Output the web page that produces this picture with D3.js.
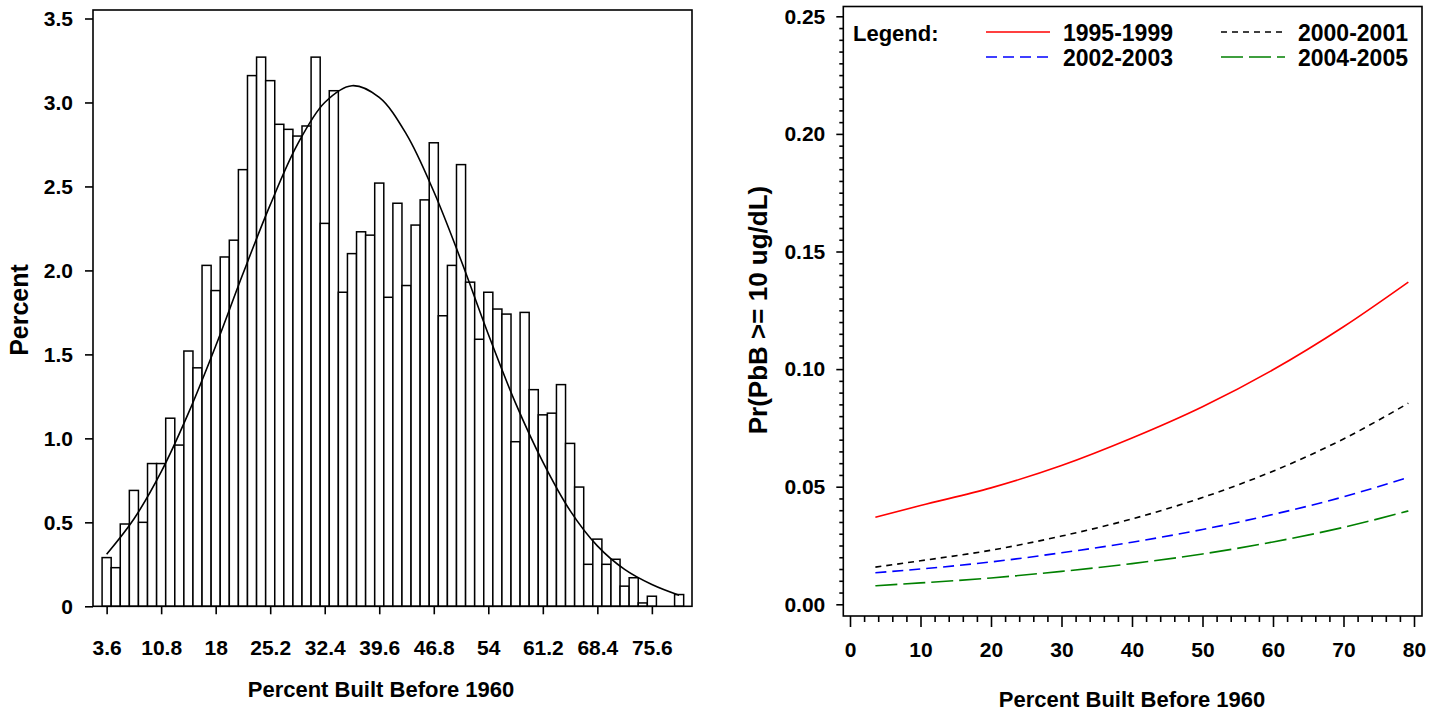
<!DOCTYPE html>
<html>
<head>
<meta charset="utf-8">
<script src="https://cdn.jsdelivr.net/npm/d3@7"></script>
<style>
  body { margin: 0; background: #fff; }
  svg { display: block; }
  text { font-family: "Liberation Sans", Arial, Helvetica, sans-serif; font-weight: bold; fill: #000; }
</style>
</head>
<body>
<svg id="chart" width="1439" height="712"></svg>
<script>
// ---- Histogram: percent of tracts by share of housing built before 1960 ----
const binStart = 3.6;      // midpoint of the first bin
const binWidth = 1.2;
const binPercents = [
  0.29, 0.23, 0.49, 0.69, 0.50, 0.85, 0.85, 1.12, 0.96, 1.52, 1.42, 2.03, 1.88, 2.08, 2.18, 2.60,
  3.16, 3.27, 3.13, 2.87, 2.84, 2.80, 2.86, 3.27, 2.28, 3.07, 1.87, 2.10, 2.23, 2.21, 2.52, 1.84,
  2.40, 1.91, 2.27, 2.42, 2.76, 1.73, 2.03, 2.63, 1.93, 1.59, 1.87, 1.77, 1.74, 0.98, 1.75, 1.29,
  1.14, 1.15, 1.32, 0.97, 0.71, 0.25, 0.40, 0.25, 0.28, 0.12, 0.17, 0.02, 0.06, 0.00, 0.00, 0.07
];
// fitted normal density, in percent per bin
const fitX = [3.6, 7.2, 10.8, 14.4, 18, 21.6, 25.2, 28.8, 32.4, 36, 39.6,
              43.2, 46.8, 50.4, 54, 57.6, 61.2, 64.8, 68.4, 72, 75.6, 79.2];
const fitPercent = [0.31, 0.52, 0.80, 1.15, 1.55, 1.98, 2.39, 2.75, 3.00, 3.10, 3.03,
                    2.81, 2.47, 2.06, 1.62, 1.21, 0.86, 0.57, 0.36, 0.22, 0.13, 0.066];
const histXTicks = [3.6, 10.8, 18, 25.2, 32.4, 39.6, 46.8, 54, 61.2, 68.4, 75.6];
const histXTickLabels = ["3.6", "10.8", "18", "25.2", "32.4", "39.6", "46.8", "54", "61.2", "68.4", "75.6"];
const histYTicks = [0, 0.5, 1.0, 1.5, 2.0, 2.5, 3.0, 3.5];
const histYTickLabels = ["0", "0.5", "1.0", "1.5", "2.0", "2.5", "3.0", "3.5"];

// ---- Predicted probability of blood lead >= 10 ug/dL by period ----
const predX = [3.6, 10, 20, 30, 40, 50, 60, 70, 79.2];
const p1995_1999 = [0.0370, 0.0420, 0.0495, 0.0590, 0.0707, 0.0840, 0.0997, 0.1180, 0.1370];
const p2000_2001 = [0.0158, 0.0185, 0.0230, 0.0290, 0.0363, 0.0454, 0.0566, 0.0703, 0.0855];
const p2002_2003 = [0.0134, 0.0150, 0.0180, 0.0219, 0.0264, 0.0318, 0.0382, 0.0457, 0.0540];
const p2004_2005 = [0.0079, 0.0091, 0.0112, 0.0140, 0.0173, 0.0214, 0.0265, 0.0327, 0.0397];
const periodNames = ["1995-1999", "2000-2001", "2002-2003", "2004-2005"];
const predXTicks = [0, 10, 20, 30, 40, 50, 60, 70, 80];
const predYTicks = [0, 0.05, 0.10, 0.15, 0.20, 0.25];

const svg = d3.select("#chart");

// ================= left panel: histogram =================
const L = { left: 93, right: 692, top: 10, bottom: 606.3 };
const hx = d3.scaleLinear().domain([1.8, 80.9]).range([L.left, L.right]);
const hy = d3.scaleLinear().domain([0, 3.5]).range([L.bottom, 18.5]);

const left = svg.append("g");

left.append("g")
  .selectAll("rect")
  .data(binPercents.map((p, i) => ({ mid: binStart + i * binWidth, p })).filter(d => d.p > 0))
  .join("rect")
  .attr("x", d => hx(d.mid - binWidth / 2))
  .attr("width", d => hx(d.mid + binWidth / 2) - hx(d.mid - binWidth / 2))
  .attr("y", d => hy(d.p))
  .attr("height", d => hy(0) - hy(d.p))
  .attr("fill", "#fff")
  .attr("stroke", "#000")
  .attr("stroke-width", 1.5);

left.append("path")
  .datum(fitX.map((x, i) => [x, fitPercent[i]]))
  .attr("fill", "none")
  .attr("stroke", "#000")
  .attr("stroke-width", 1.6)
  .attr("d", d3.line().x(d => hx(d[0])).y(d => hy(d[1])).curve(d3.curveCatmullRom));

left.append("rect")
  .attr("x", L.left).attr("y", L.top)
  .attr("width", L.right - L.left).attr("height", L.bottom - L.top)
  .attr("fill", "none").attr("stroke", "#000").attr("stroke-width", 1.6);

const hxAxis = left.append("g")
  .attr("transform", `translate(0,${L.bottom})`)
  .call(d3.axisBottom(hx).tickValues(histXTicks)
    .tickFormat((d, i) => histXTickLabels[i]).tickSize(8).tickPadding(26));
hxAxis.select(".domain").remove();

const hyAxis = left.append("g")
  .attr("transform", `translate(${L.left},0)`)
  .call(d3.axisLeft(hy).tickValues(histYTicks)
    .tickFormat((d, i) => histYTickLabels[i]).tickSize(8).tickPadding(12));
hyAxis.select(".domain").remove();

[hxAxis, hyAxis].forEach(a => {
  a.selectAll("line").attr("stroke", "#000").attr("stroke-width", 1.6);
  a.selectAll("text").style("font-size", "21px").attr("fill", "#000");
});

left.append("text")
  .attr("x", 381).attr("y", 697)
  .attr("text-anchor", "middle")
  .style("font-size", "22px")
  .text("Percent Built Before 1960");

left.append("text")
  .attr("transform", "translate(28,310) rotate(-90)")
  .attr("text-anchor", "middle")
  .style("font-size", "25px")
  .text("Percent");

// ================= right panel: predicted probabilities =================
const R = { left: 843.3, right: 1422, top: 6.5, bottom: 616 };
const px = d3.scaleLinear().domain([0, 80]).range([850, 1414]);
const py = d3.scaleLinear().domain([0, 0.25]).range([604.3, 16.3]);

const right = svg.append("g");

right.append("rect")
  .attr("x", R.left).attr("y", R.top)
  .attr("width", R.right - R.left).attr("height", R.bottom - R.top)
  .attr("fill", "none").attr("stroke", "#000").attr("stroke-width", 1.6);

// minor ticks
const pxMinor = right.append("g")
  .attr("transform", `translate(0,${R.bottom})`)
  .call(d3.axisBottom(px).tickValues(d3.range(0, 81, 2).filter(v => v % 10 !== 0))
    .tickFormat("").tickSize(6));
const pyMinor = right.append("g")
  .attr("transform", `translate(${R.left},0)`)
  .call(d3.axisLeft(py).tickValues(d3.range(0, 0.2501, 0.005).filter((v, i) => i % 10 !== 0))
    .tickFormat("").tickSize(4));

// major ticks and labels
const pxAxis = right.append("g")
  .attr("transform", `translate(0,${R.bottom})`)
  .call(d3.axisBottom(px).tickValues(predXTicks).tickFormat(d3.format("d"))
    .tickSize(11).tickPadding(15));
const pyAxis = right.append("g")
  .attr("transform", `translate(${R.left},0)`)
  .call(d3.axisLeft(py).tickValues(predYTicks).tickFormat(d3.format(".2f"))
    .tickSize(7).tickPadding(11));

[pxMinor, pyMinor, pxAxis, pyAxis].forEach(a => {
  a.select(".domain").remove();
  a.selectAll("line").attr("stroke", "#000").attr("stroke-width", 1.6);
  a.selectAll("text").style("font-size", "21px").attr("fill", "#000");
});

const series = [
  { name: periodNames[0], values: p1995_1999, color: "#ff0000", dash: null },
  { name: periodNames[1], values: p2000_2001, color: "#000000", dash: "6,5" },
  { name: periodNames[2], values: p2002_2003, color: "#0000ff", dash: "11,6" },
  { name: periodNames[3], values: p2004_2005, color: "#008000", dash: "22,6" }
];

const predLine = d3.line()
  .x(d => px(d[0])).y(d => py(d[1]))
  .curve(d3.curveMonotoneX);

right.append("g")
  .selectAll("path")
  .data(series)
  .join("path")
  .attr("fill", "none")
  .attr("stroke", d => d.color)
  .attr("stroke-width", 1.6)
  .attr("stroke-dasharray", d => d.dash)
  .attr("d", d => predLine(predX.map((x, i) => [x, d.values[i]])));

// legend
const legend = right.append("g");
legend.append("text").attr("x", 853).attr("y", 40.5).style("font-size", "22px").text("Legend:");
const legendPos = [
  { lx: 986, ly: 32, tx: 1063, ty: 40.5 },
  { lx: 1221, ly: 32, tx: 1298, ty: 40.5 },
  { lx: 986, ly: 57, tx: 1063, ty: 65.5 },
  { lx: 1221, ly: 57, tx: 1298, ty: 65.5 }
];
series.forEach((s, i) => {
  const p = legendPos[i];
  legend.append("line")
    .attr("x1", p.lx).attr("x2", p.lx + 64)
    .attr("y1", p.ly).attr("y2", p.ly)
    .attr("stroke", s.color).attr("stroke-width", 1.6)
    .attr("stroke-dasharray", s.dash);
  legend.append("text").attr("x", p.tx).attr("y", p.ty)
    .style("font-size", "23px").text(s.name);
});

right.append("text")
  .attr("x", 1132).attr("y", 707)
  .attr("text-anchor", "middle")
  .style("font-size", "22px")
  .text("Percent Built Before 1960");

right.append("text")
  .attr("transform", "translate(767,310) rotate(-90)")
  .attr("text-anchor", "middle")
  .style("font-size", "26px")
  .text("Pr(PbB >= 10 ug/dL)");
</script>
</body>
</html>
